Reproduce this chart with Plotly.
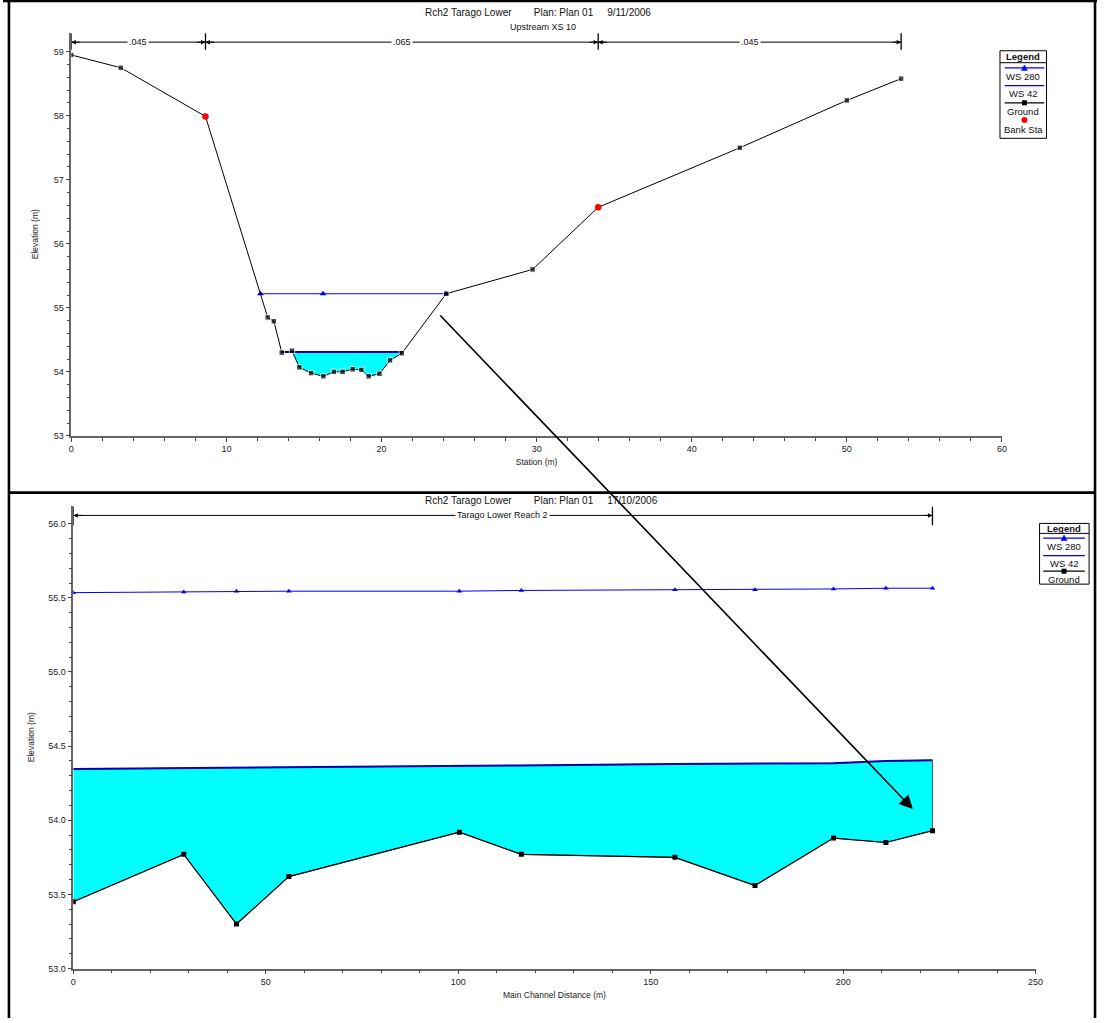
import numpy as np
import plotly.graph_objects as go

W, H = 1105, 1023
FONT = "Liberation Sans, Arial, sans-serif"

# ---------------- Top chart: cross section (Upstream XS 10) ----------------
xs_station = [0.0, 3.19, 8.65, 12.66, 13.06, 13.57, 14.23, 14.70, 15.46, 16.25, 16.93, 17.49,
              18.14, 18.70, 19.17, 19.87, 20.55, 21.31, 24.17, 29.74, 33.97, 43.1, 50.0, 53.5]
xs_elev = [58.95, 58.75, 57.99, 54.85, 54.79, 54.30, 54.33, 54.07, 53.98, 53.93, 54.00, 54.00,
           54.04, 54.03, 53.93, 53.97, 54.18, 54.29, 55.22, 55.60, 56.57, 57.50, 58.24, 58.58]
bank_station = [8.65, 33.97]
bank_elev = [57.99, 56.57]
ws280_xs_station = [12.19, 16.23, 24.17]
ws280_xs_elev = [55.22, 55.22, 55.22]
ws42_xs_elev = 54.31
n_breaks = [0.0, 8.65, 33.97, 53.5]
n_labels = [".045", ".065", ".045"]

# ---------------- Bottom chart: profile ----------------
prof_dist = [0.0, 28.7, 42.4, 56.0, 100.3, 116.4, 156.3, 177.1, 197.5, 211.1, 223.2]
prof_ground = [53.45, 53.77, 53.30, 53.62, 53.92, 53.77, 53.75, 53.56, 53.88, 53.85, 53.93]
prof_ws42 = [54.345, 54.35, 54.355, 54.355, 54.365, 54.37, 54.38, 54.385, 54.385, 54.40, 54.405]
prof_ws280 = [55.535, 55.54, 55.545, 55.545, 55.545, 55.55, 55.555, 55.555, 55.56, 55.565, 55.565]
reach_label = "Tarago Lower Reach 2"

title_top = "Rch2 Tarago Lower" + "\u00a0" * 8 + "Plan: Plan 01" + "\u00a0" * 5 + "9/11/2006"
subtitle_top = "Upstream XS 10"
title_bot = "Rch2 Tarago Lower" + "\u00a0" * 8 + "Plan: Plan 01" + "\u00a0" * 5 + "17/10/2006"

CYAN = "#00FFFF"
WS42C = "#0000B0"
WS280C = "#0000FF"


def P(px, py):
    return px / W, 1 - py / H


def water_polygon(xs, zs, ws):
    px, py = [], []
    for i in range(len(xs)):
        if i > 0:
            xa, za = xs[i - 1], zs[i - 1]
            if (za - ws) * (zs[i] - ws) < 0:
                xc = xa + (ws - za) / (zs[i] - za) * (xs[i] - xa)
                px.append(xc)
                py.append(ws)
        if zs[i] <= ws:
            px.append(xs[i])
            py.append(zs[i])
    return px, py


fig = go.Figure()

# ---- top chart traces ----
wx, wy = water_polygon(xs_station, xs_elev, ws42_xs_elev)
fig.add_trace(go.Scatter(x=wx, y=wy, fill="toself", fillcolor=CYAN, mode="lines",
                         line=dict(width=0), hoverinfo="skip", showlegend=False,
                         xaxis="x", yaxis="y"))
fig.add_trace(go.Scatter(x=[wx[0], wx[-1]], y=[ws42_xs_elev, ws42_xs_elev], mode="lines",
                         line=dict(color=WS42C, width=2), name="WS 42", showlegend=False,
                         xaxis="x", yaxis="y"))
fig.add_trace(go.Scatter(x=ws280_xs_station, y=ws280_xs_elev, mode="lines+markers",
                         line=dict(color=WS280C, width=1),
                         marker=dict(symbol="triangle-up", size=6, color=WS280C),
                         name="WS 280", showlegend=False, xaxis="x", yaxis="y"))
gsize = [0 if s in bank_station else 5.5 for s in xs_station]
fig.add_trace(go.Scatter(x=xs_station, y=xs_elev, mode="lines+markers",
                         line=dict(color="black", width=1),
                         marker=dict(symbol="square", size=gsize, color="black"),
                         name="Ground", showlegend=False, xaxis="x", yaxis="y"))
fig.add_trace(go.Scatter(x=bank_station, y=bank_elev, mode="markers",
                         marker=dict(symbol="circle", size=6.5, color="red"),
                         name="Bank Sta", showlegend=False, xaxis="x", yaxis="y"))

# ---- bottom chart traces ----
fig.add_trace(go.Scatter(x=prof_dist + prof_dist[::-1], y=prof_ws42 + prof_ground[::-1],
                         fill="toself", fillcolor=CYAN, mode="lines",
                         line=dict(color="#333333", width=0.8), hoverinfo="skip",
                         showlegend=False, xaxis="x2", yaxis="y2"))
fig.add_trace(go.Scatter(x=prof_dist, y=prof_ground, mode="lines+markers",
                         line=dict(color="black", width=1.2),
                         marker=dict(symbol="square", size=5, color="black"),
                         name="Ground", showlegend=False, xaxis="x2", yaxis="y2"))
fig.add_trace(go.Scatter(x=prof_dist, y=prof_ws42, mode="lines",
                         line=dict(color=WS42C, width=2),
                         name="WS 42", showlegend=False, xaxis="x2", yaxis="y2"))
fig.add_trace(go.Scatter(x=prof_dist, y=prof_ws280, mode="lines+markers",
                         line=dict(color=WS280C, width=1),
                         marker=dict(symbol="triangle-up", size=5, color=WS280C),
                         name="WS 280", showlegend=False, xaxis="x2", yaxis="y2"))

axis_common = dict(showline=True, linecolor="#666666", linewidth=1.5, ticks="outside",
                   ticklen=4, tickcolor="#444444", showgrid=False, zeroline=False,
                   tickfont=dict(family=FONT, size=9, color="#222222"))


def ydom(ptop, pbot):
    return [1 - pbot / H, 1 - ptop / H]


fig.update_layout(
    width=W, height=H, autosize=False,
    margin=dict(l=0, r=0, t=0, b=0),
    paper_bgcolor="white", plot_bgcolor="white",
    showlegend=False,
    xaxis=dict(domain=[69 / W, 1009 / W], range=[0, 60], anchor="y",
               tickmode="array", tickvals=list(range(0, 61, 10)),
               minor=dict(tickmode="array", tickvals=list(np.arange(0, 61, 2)), ticklen=3,
                          ticks="outside", tickcolor="#444444"),
               title=dict(text="Station (m)", font=dict(family=FONT, size=8.5, color="#222"),
                          standoff=6),
               **axis_common),
    yaxis=dict(domain=ydom(32.7, 438), range=[53, 59.3], anchor="x",
               tickmode="array", tickvals=list(range(53, 60)),
               minor=dict(tickmode="array", tickvals=list(np.round(np.arange(53, 59.01, 0.2), 2)),
                          ticklen=3, ticks="outside", tickcolor="#444444"),
               title=dict(text="Elevation (m)", font=dict(family=FONT, size=8.5, color="#222"),
                          standoff=14),
               **axis_common),
    xaxis2=dict(domain=[71 / W, 1043 / W], range=[0, 250], anchor="y2",
                tickmode="array", tickvals=list(range(0, 251, 50)),
                minor=dict(tickmode="array", tickvals=list(range(0, 251, 10)), ticklen=3,
                           ticks="outside", tickcolor="#444444"),
                title=dict(text="Main Channel Distance (m)",
                           font=dict(family=FONT, size=8.5, color="#222"), standoff=6),
                **axis_common),
    yaxis2=dict(domain=ydom(508.4, 973.3), range=[53, 56.12], anchor="x2",
                tickmode="array", tickvals=list(np.round(np.arange(53, 56.01, 0.5), 1)),
                tickformat=".1f",
                minor=dict(tickmode="array", tickvals=list(np.round(np.arange(53, 56.01, 0.1), 1)),
                           ticklen=3, ticks="outside", tickcolor="#444444"),
                title=dict(text="Elevation (m)", font=dict(family=FONT, size=8.5, color="#222"),
                           standoff=12),
                **axis_common),
)

shapes = []
annotations = []

# ---- frame ----
for (x0, y0, x1, y1) in [(6, 0, 6, H), (0, 1, W, 1), (1103, 0, 1103, H), (6, 495, 1103, 495)]:
    a, b = P(x0, y0)
    c, d = P(x1, y1)
    shapes.append(dict(type="line", xref="paper", yref="paper", x0=a, y0=b, x1=c, y1=d,
                       line=dict(color="black", width=2.6)))


def text_at(text, px, py, size, bold=False):
    x, y = P(px, py)
    annotations.append(dict(text=("<b>%s</b>" % text) if bold else text, x=x, y=y,
                            xref="paper", yref="paper", showarrow=False,
                            xanchor="center", yanchor="middle",
                            font=dict(family=FONT, size=size, color="#111")))


# ---- titles ----
text_at(title_top, 540, 13, 10)
text_at(subtitle_top, 545, 27, 9)
text_at(title_bot, 544, 503, 10)


def span_marks(xref, yref, breaks, labels, yline, ybar0, ybar1):
    for xb in breaks:
        shapes.append(dict(type="line", xref=xref, yref=yref, x0=xb, x1=xb, y0=ybar0, y1=ybar1,
                           line=dict(color="black", width=1.3)))
    for i in range(len(breaks) - 1):
        a, b = breaks[i], breaks[i + 1]
        shapes.append(dict(type="line", xref=xref, yref=yref, x0=a, x1=b, y0=yline, y1=yline,
                           line=dict(color="black", width=1)))
        annotations.append(dict(text=labels[i], x=(a + b) / 2, y=yline, xref=xref, yref=yref,
                                showarrow=False, bgcolor="white", borderpad=1,
                                xanchor="center", yanchor="middle",
                                font=dict(family=FONT, size=9, color="#111")))
        for xh, off in [(a, 10), (b, -10)]:
            annotations.append(dict(text="", x=xh, y=yline, xref=xref, yref=yref, ax=off, ay=0,
                                    showarrow=True, arrowhead=2, arrowsize=0.9, arrowwidth=1,
                                    arrowcolor="black", standoff=0))


span_marks("x", "y", n_breaks, n_labels, 59.15, 59.03, 59.29)
span_marks("x2", "y2", [prof_dist[0], prof_dist[-1]], [reach_label], 56.056, 55.99, 56.115)

# ---- big arrow spanning both panels ----
hx, hy = P(919, 813)
annotations.append(dict(text="", x=hx, y=hy, xref="paper", yref="paper",
                        ax=445 - 919, ay=318 - 813, showarrow=True, arrowhead=2,
                        arrowsize=1.7, arrowwidth=1.6, arrowcolor="black", standoff=0))


# ---- legends (drawn boxes) ----
def legend_box(box, header_y, sep_y, sx0, sx1, items):
    x0, y0 = P(box[0], box[1])
    x1, y1 = P(box[2], box[3])
    shapes.append(dict(type="rect", xref="paper", yref="paper", x0=x0, y0=y0, x1=x1, y1=y1,
                       line=dict(color="black", width=1), fillcolor="white", layer="below"))
    a, b = P(box[0], sep_y)
    c, d = P(box[2], sep_y)
    shapes.append(dict(type="line", xref="paper", yref="paper", x0=a, y0=b, x1=c, y1=d,
                       line=dict(color="black", width=1)))
    cx = (box[0] + box[2]) / 2
    text_at("Legend", cx, header_y, 9.5, bold=True)
    scx = (sx0 + sx1) / 2
    for kind, color, ly, label, ty in items:
        if kind != "dot":
            a, b = P(sx0, ly)
            c, d = P(sx1, ly)
            shapes.append(dict(type="line", xref="paper", yref="paper", x0=a, y0=b, x1=c, y1=d,
                               line=dict(color=color, width=1.3)))
        if kind == "tri":
            pts = [P(scx - 3, ly + 2.5), P(scx + 3, ly + 2.5), P(scx, ly - 3)]
            path = "M{},{} L{},{} L{},{} Z".format(pts[0][0], pts[0][1], pts[1][0], pts[1][1],
                                                   pts[2][0], pts[2][1])
            shapes.append(dict(type="path", xref="paper", yref="paper", path=path,
                               fillcolor=color, line=dict(color=color, width=0.5)))
        elif kind == "sq":
            a, b = P(scx - 2.5, ly - 2.5)
            c, d = P(scx + 2.5, ly + 2.5)
            shapes.append(dict(type="rect", xref="paper", yref="paper", x0=a, y0=b, x1=c, y1=d,
                               fillcolor=color, line=dict(color=color, width=0)))
        elif kind == "dot":
            a, b = P(scx - 3, ly - 3)
            c, d = P(scx + 3, ly + 3)
            shapes.append(dict(type="circle", xref="paper", yref="paper", x0=a, y0=b, x1=c, y1=d,
                               fillcolor=color, line=dict(color=color, width=0)))
        text_at(label, cx, ty, 9.5)


legend_box((1007, 51, 1054, 139), 57, 63, 1011.7, 1051.7, [
    ("tri", WS280C, 68.3, "WS 280", 77.3),
    ("line", WS280C, 86, "WS 42", 94.3),
    ("sq", "black", 103.3, "Ground", 112.3),
    ("dot", "red", 120.7, "Bank Sta", 130),
])
legend_box((1047, 526, 1097, 587), 531.3, 536, 1050.7, 1092.7, [
    ("tri", WS280C, 540.7, "WS 280", 549.3),
    ("line", WS280C, 558.3, "WS 42", 566.7),
    ("sq", "black", 574, "Ground", 582.3),
])

fig.update_layout(shapes=shapes, annotations=annotations)
fig.write_html("out.html")
